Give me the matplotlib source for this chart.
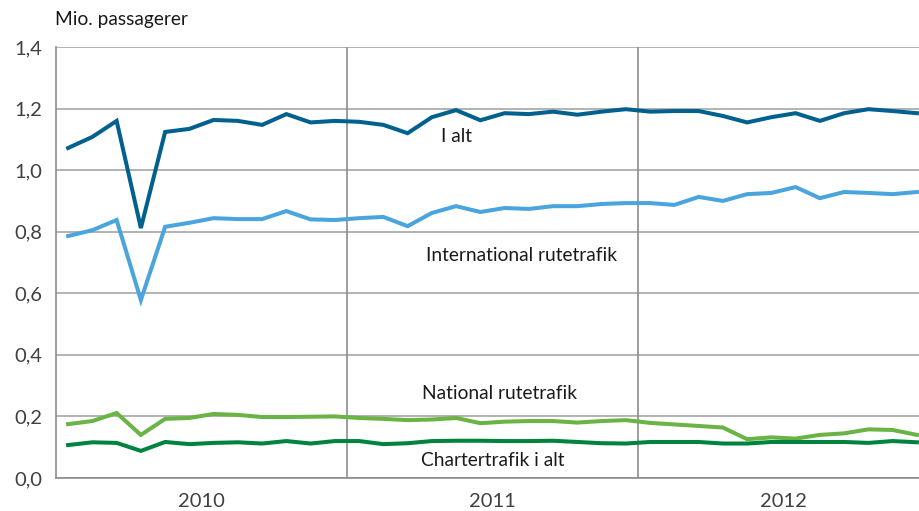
import matplotlib
matplotlib.use("Agg")
import matplotlib.pyplot as plt
import numpy as np

years = ["2010", "2011", "2012"]
y_ticks = [0.0, 0.2, 0.4, 0.6, 0.8, 1.0, 1.2, 1.4]
y_tick_labels = ["0,0", "0,2", "0,4", "0,6", "0,8", "1,0", "1,2", "1,4"]

i_alt = [1.072, 1.108, 1.160, 0.812, 1.124, 1.134, 1.163, 1.160, 1.147, 1.182, 1.155, 1.160,
         1.157, 1.147, 1.120, 1.172, 1.195, 1.162, 1.185, 1.182, 1.190, 1.180, 1.190, 1.198,
         1.190, 1.192, 1.192, 1.176, 1.155, 1.172, 1.185, 1.160, 1.185, 1.198, 1.192, 1.185]
international = [0.786, 0.805, 0.838, 0.578, 0.816, 0.829, 0.844, 0.841, 0.841, 0.867, 0.840, 0.838,
                 0.844, 0.848, 0.818, 0.861, 0.883, 0.864, 0.877, 0.874, 0.883, 0.883, 0.890, 0.893,
                 0.893, 0.887, 0.913, 0.900, 0.922, 0.926, 0.945, 0.909, 0.929, 0.926, 0.922, 0.929]
national = [0.175, 0.185, 0.211, 0.140, 0.192, 0.195, 0.208, 0.205, 0.198, 0.198, 0.199, 0.200,
            0.195, 0.192, 0.188, 0.190, 0.195, 0.178, 0.183, 0.185, 0.185, 0.180, 0.185, 0.188,
            0.179, 0.174, 0.169, 0.164, 0.126, 0.132, 0.128, 0.140, 0.145, 0.158, 0.156, 0.140]
charter = [0.107, 0.116, 0.114, 0.088, 0.117, 0.110, 0.114, 0.116, 0.112, 0.120, 0.112, 0.120,
           0.120, 0.110, 0.113, 0.120, 0.121, 0.121, 0.120, 0.120, 0.121, 0.117, 0.113, 0.112,
           0.117, 0.117, 0.117, 0.112, 0.112, 0.117, 0.117, 0.117, 0.117, 0.114, 0.120, 0.116]

series = [
    ("I alt", i_alt, "#00618f", (16.5, 1.108)),
    ("International rutetrafik", international, "#4aa5de", (19.2, 0.724)),
    ("National rutetrafik", national, "#6ab445", (18.3, 0.276)),
    ("Chartertrafik i alt", charter, "#00833e", (18.0, 0.058)),
]

plt.rcParams['font.family'] = ['Lato', 'DejaVu Sans']

fig = plt.figure(figsize=(9.2, 5.11), dpi=100)
ax = fig.add_axes([56/920, 33/511, 1 - 56/920, (478-47)/511])

x = np.arange(36) + 0.5
for name, vals, col, (tx, ty) in series:
    ax.plot(x, vals, color=col, lw=2.9, solid_joinstyle='miter', zorder=3)
    ax.text(tx, ty, name, ha='center', va='center', fontsize=13.8, color='#1a1a1a')

ax.set_xlim(0, (920-56)/24.25)
ax.set_ylim(0, 1.4)
ax.set_yticks(y_ticks)
ax.set_yticklabels(y_tick_labels)
ax.yaxis.grid(True, color='#a6a6a6', lw=1.2)
for xv in [12, 24]:
    ax.axvline(xv, color='#8c8c8c', lw=1.2, zorder=1)
ax.set_xticks([6, 18, 30])
ax.set_xticklabels(years)
ax.tick_params(axis='both', length=0, labelsize=14.5, labelcolor='#404040')
ax.tick_params(axis='x', pad=11)
ax.tick_params(axis='y', pad=10)
for s in ['top', 'right']:
    ax.spines[s].set_visible(False)
for s in ['left', 'bottom']:
    ax.spines[s].set_color('#8c8c8c')
    ax.spines[s].set_linewidth(1.2)
ax.set_axisbelow(True)

fig.text(55/920, 1 - 20/511, "Mio. passagerer", ha='left', va='center', fontsize=13.8, color='#1a1a1a')

fig.savefig("out.png", dpi=100)
